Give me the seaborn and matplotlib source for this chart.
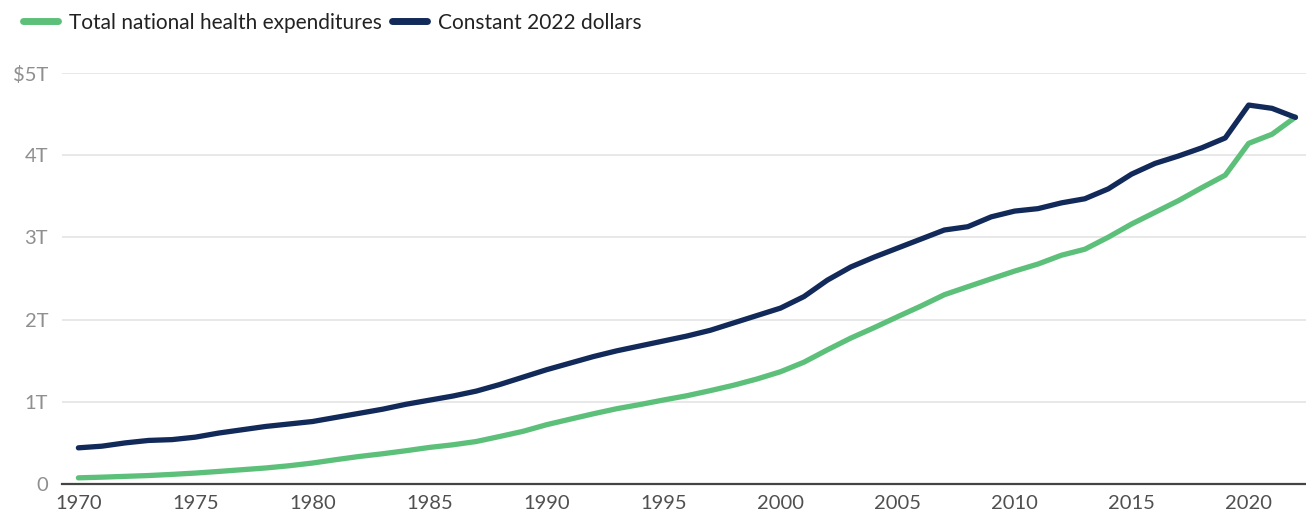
import pandas as pd
import numpy as np
import matplotlib.pyplot as plt
import seaborn as sns
from matplotlib.lines import Line2D

# Data (trillions of dollars)
years = list(range(1970, 2023))
nominal = [0.075, 0.083, 0.093, 0.103, 0.117, 0.133, 0.153, 0.174, 0.195, 0.222,
           0.255, 0.296, 0.335, 0.368, 0.405, 0.445, 0.477, 0.517, 0.578, 0.641,
           0.721, 0.788, 0.854, 0.916, 0.967, 1.022, 1.074, 1.136, 1.202, 1.278,
           1.366, 1.482, 1.632, 1.775, 1.902, 2.035, 2.165, 2.303, 2.400, 2.496,
           2.590, 2.676, 2.783, 2.856, 3.002, 3.163, 3.305, 3.447, 3.605, 3.757,
           4.144, 4.255, 4.464]
constant = [0.44, 0.46, 0.50, 0.53, 0.54, 0.57, 0.62, 0.66, 0.70, 0.73,
            0.76, 0.81, 0.86, 0.91, 0.97, 1.02, 1.07, 1.13, 1.21, 1.30,
            1.39, 1.47, 1.55, 1.62, 1.68, 1.74, 1.80, 1.87, 1.96, 2.05,
            2.14, 2.28, 2.48, 2.64, 2.76, 2.87, 2.98, 3.09, 3.13, 3.25,
            3.32, 3.35, 3.42, 3.47, 3.59, 3.77, 3.90, 3.99, 4.09, 4.21,
            4.61, 4.57, 4.46]
series_names = ['Total national health expenditures', 'Constant 2022 dollars']
colors = ['#5dc07a', '#122a5a']
y_ticks = [0, 1, 2, 3, 4, 5]
y_labels = ['0', '1T', '2T', '3T', '4T', '$5T']
x_ticks = list(range(1970, 2021, 5))

df = pd.DataFrame({
    'year': years * 2,
    'value': nominal + constant,
    'series': [series_names[0]] * len(years) + [series_names[1]] * len(years),
})

sns.set_style('white')
plt.rcParams['font.family'] = ['Lato', 'DejaVu Sans']

fig = plt.figure(figsize=(13.06, 5.2), dpi=100)
ax = fig.add_axes([62 / 1306, 36 / 520, 1 - 62 / 1306, (484 - 73) / 520])

sns.lineplot(data=df, x='year', y='value', hue='series', palette=colors,
             hue_order=series_names, linewidth=3.8, ax=ax, legend=False,
             solid_capstyle='round', solid_joinstyle='round')

ax.set_xlim(1969.3, 2022.45)
ax.set_ylim(0, 5)
ax.set_yticks(y_ticks)
ax.set_yticklabels(y_labels)
ax.set_xticks(x_ticks)
ax.set_xlabel('')
ax.set_ylabel('')

ax.grid(axis='y', color='#e2e2e2', linewidth=1.1)
ax.grid(axis='x', visible=False)
ax.set_axisbelow(True)
for s in ['top', 'right', 'left']:
    ax.spines[s].set_visible(False)
ax.spines['bottom'].set_color('#444444')
ax.spines['bottom'].set_linewidth(1.6)

ax.tick_params(axis='y', length=0, pad=10, labelsize=14.5, labelcolor='#8f8f8f')
ax.tick_params(axis='x', length=0, pad=8, labelsize=14.5, labelcolor='#505050')

handles = [Line2D([0], [0], color=c, linewidth=5, solid_capstyle='round') for c in colors]
fig.legend(handles, series_names, loc='upper left', bbox_to_anchor=(0.003, 1.012),
           ncol=2, frameon=False, fontsize=15, handlelength=1.7,
           handletextpad=0.5, columnspacing=0.5, labelcolor='#222222')

fig.savefig('out.png', dpi=100)
